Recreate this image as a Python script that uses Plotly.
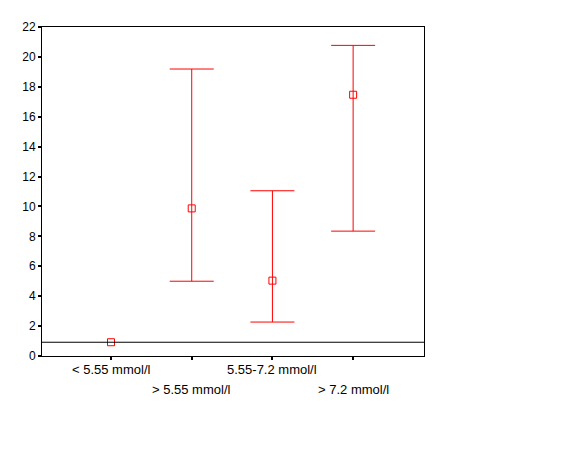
import plotly.graph_objects as go

categories = ["< 5.55 mmol/l", "> 5.55 mmol/l", "5.55-7.2 mmol/l", "> 7.2 mmol/l"]
means = [0.92, 9.87, 5.04, 17.47]
upper = [None, 19.19, 11.05, 20.77]
lower = [None, 5.0, 2.27, 8.35]
reference_line = 0.92
y_ticks = [0, 2, 4, 6, 8, 10, 12, 14, 16, 18, 20, 22]

x_pos = list(range(len(categories)))
idx = [i for i in x_pos if upper[i] is not None]
err_x = [x_pos[i] for i in idx]
err_y = [means[i] for i in idx]
err_plus = [upper[i] - means[i] for i in idx]
err_minus = [means[i] - lower[i] for i in idx]

fig = go.Figure()
fig.add_trace(go.Scatter(
    x=err_x, y=err_y, mode="markers",
    marker=dict(size=7, opacity=0, color="#ff0000"),
    error_y=dict(type="data", symmetric=False, array=err_plus, arrayminus=err_minus,
                 color="#ff0000", thickness=1, width=22),
    showlegend=False, hoverinfo="skip",
))
fig.add_trace(go.Scatter(
    x=x_pos, y=means, mode="markers",
    marker=dict(symbol="square-open", size=7, color="#ff0000", line=dict(width=1, color="#ff0000")),
    showlegend=False, hoverinfo="skip",
))

fig.add_shape(type="line", xref="paper", yref="y", x0=0, x1=1,
              y0=reference_line, y1=reference_line, line=dict(color="black", width=1))

for i, lab in enumerate(categories):
    fig.add_annotation(x=i, y=0, xref="x", yref="paper", text=lab, showarrow=False,
                       yanchor="middle", xanchor="center",
                       yshift=-13.5 if i % 2 == 0 else -33.5,
                       font=dict(family="Liberation Sans, Arial, sans-serif", size=13, color="black"))

fig.update_layout(
    width=565, height=452,
    margin=dict(l=34, r=149, t=15, b=104),
    plot_bgcolor="white", paper_bgcolor="white",
    font=dict(family="Liberation Sans, Arial, sans-serif", size=12, color="black"),
    xaxis=dict(range=[-0.855, 3.878], tickvals=x_pos, ticktext=[""] * len(x_pos),
               showgrid=False, zeroline=False, showline=True, linecolor="black", linewidth=1,
               mirror=True, ticks="outside", ticklen=3, tickwidth=2, tickcolor="black"),
    yaxis=dict(range=[0, 22], tickvals=y_ticks, showgrid=False, zeroline=False,
               showline=True, linecolor="black", linewidth=1, mirror=True,
               ticks="outside", ticklen=3, tickwidth=2, tickcolor="black",
               tickfont=dict(size=12)),
)

fig.write_html("out.html")
